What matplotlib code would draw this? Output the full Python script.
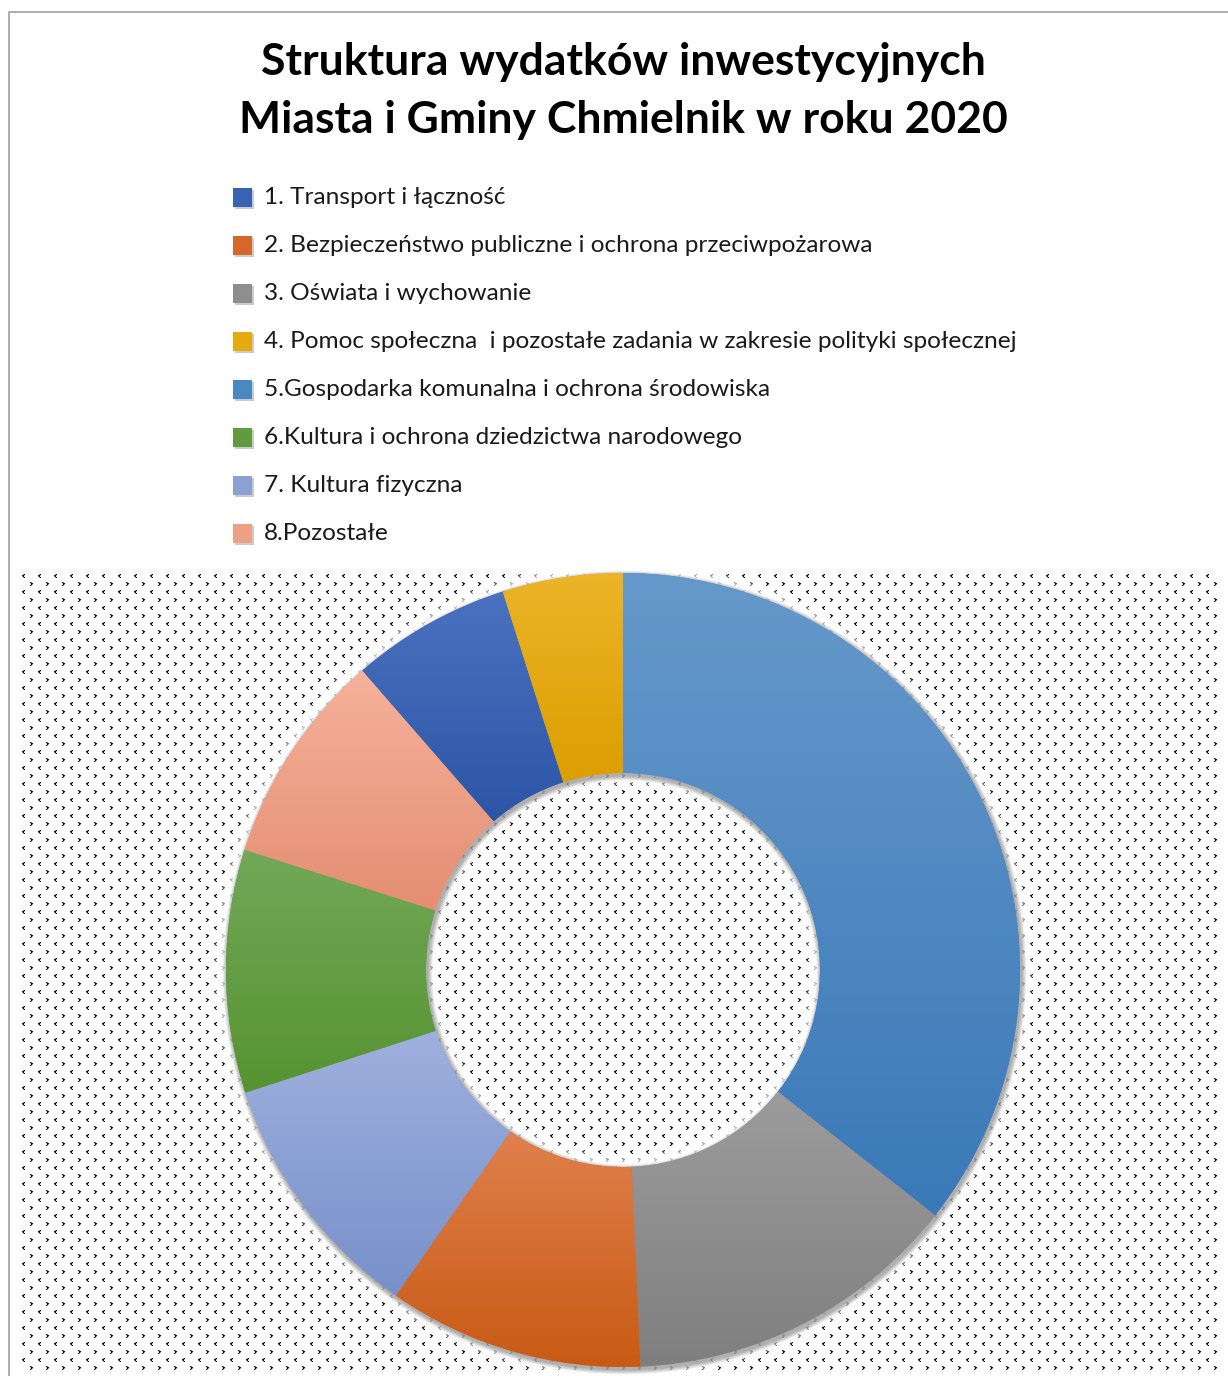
#!/usr/bin/env python3
"""Donut chart: struktura wydatkow inwestycyjnych, Chmielnik 2020."""

import matplotlib
matplotlib.use("Agg")
import matplotlib.pyplot as plt
import matplotlib.colors as mcolors
from matplotlib.patches import Rectangle, Wedge
import numpy as np

plt.rcParams["font.family"] = ["Lato", "DejaVu Sans"]

TITLE_LINES = ["Struktura wydatków inwestycyjnych",
               "Miasta i Gminy Chmielnik w roku 2020"]

# legend order (categories 1..8)
CATEGORIES = [
    "1. Transport i łączność",
    "2. Bezpieczeństwo publiczne i ochrona przeciwpożarowa",
    "3. Oświata i wychowanie",
    "4. Pomoc społeczna  i pozostałe zadania w zakresie polityki społecznej",
    "5.Gospodarka komunalna i ochrona środowiska",
    "6.Kultura i ochrona dziedzictwa narodowego",
    "7. Kultura fizyczna",
    "8.Pozostałe",
]
# share of spending in %
SHARES = [6.5, 10.4, 13.7, 4.9, 35.6, 9.9, 10.3, 8.7]
# gradient colours (top, bottom) per category
COLORS_TOP = ["#4a72c0", "#e0804c", "#9c9c9c", "#ecb428", "#6699cb", "#72a858", "#9eb0de", "#f5b29b"]
COLORS_BOTTOM = ["#2d55a6", "#c85a14", "#7f7f7f", "#dc9e00", "#3a79b8", "#579331", "#7890c9", "#e48e72"]
LEGEND_COLORS = ["#3a62b3", "#d4682a", "#8e8e8e", "#e5aa10", "#4a88c4", "#609c3e", "#8ca0d4", "#eea084"]

W, H = 1228, 1376
CX, CY = 623, H - 970
R_OUT, R_IN = 397, 197


def make_pattern(w, h):
    """Excel-like dotted '<' '>' pattern, 16 px tile."""
    tile = np.zeros((16, 16))
    lt = np.array([[0.0, 0.5, 1.0],
                   [1.0, 1.0, 0.3],
                   [0.4, 1.0, 0.1],
                   [0.0, 0.4, 1.0]])
    gt = lt[:, ::-1]
    tile[1:5, 0:3] = lt
    tile[9:13, 8:11] = gt
    reps = (h // 16 + 2, w // 16 + 2)
    big = np.tile(tile, reps)[:h, :w]
    rgb = np.ones((h, w, 3)) - big[..., None] * 0.97
    return rgb


fig = plt.figure(figsize=(W / 100, H / 100), dpi=100)
ax = fig.add_axes([0, 0, 1, 1])

# plot area pattern
px0, px1, py0, py1 = 22, 1222, H - 1370, H - 573
pat = make_pattern(px1 - px0, py1 - py0)
ax.imshow(pat, extent=(px0, px1, py0, py1), origin="upper",
          interpolation="nearest", zorder=0)

# donut, largest slice first, clockwise from 12 o'clock
order = np.argsort(SHARES)[::-1]
vals = [SHARES[i] for i in order]
wedges, _ = ax.pie(vals, startangle=90, counterclock=False, radius=R_OUT,
                   center=(CX, CY), wedgeprops=dict(width=R_OUT - R_IN, linewidth=0),
                   colors=[LEGEND_COLORS[i] for i in order])

# soft white glow around the ring
for k in range(1, 14):
    ax.add_patch(Wedge((CX, CY), R_OUT + k, 0, 360, width=R_OUT - R_IN + 2 * k,
                       facecolor="white", edgecolor="none", alpha=0.13, zorder=1))
# soft drop shadow
for k in range(1, 7):
    ax.add_patch(Wedge((CX + 1.5, CY - 2.5), R_OUT + k * 0.8, 0, 360,
                       width=R_OUT - R_IN + k * 1.6,
                       facecolor="black", edgecolor="none", alpha=0.06, zorder=2))

for w, i in zip(wedges, order):
    w.set_zorder(3)
    ext = w.get_path().get_extents()
    grad = np.linspace(0, 1, 256)[:, None]
    c0 = np.array(mcolors.to_rgb(COLORS_BOTTOM[i]))
    c1 = np.array(mcolors.to_rgb(COLORS_TOP[i]))
    img = c0[None, None, :] * (1 - grad[..., None]) + c1[None, None, :] * grad[..., None]
    img = np.repeat(img, 2, axis=1)
    im = ax.imshow(img, extent=(ext.x0, ext.x1, ext.y0, ext.y1), origin="lower",
                   interpolation="bilinear", zorder=4, aspect="auto")
    im.set_clip_path(w)

# title
for k, line in enumerate(TITLE_LINES):
    ax.text(623, H - (62 + 58 * k), line, ha="center", va="center", fontsize=32,
            fontweight="bold", color="black", zorder=6)

# legend
for k, (label, col) in enumerate(zip(CATEGORIES, LEGEND_COLORS)):
    yc = H - (197 + 48 * k)
    ax.add_patch(Rectangle((235, yc - 11.5), 19, 19, facecolor="#999999",
                           edgecolor="none", alpha=0.5, zorder=5))
    ax.add_patch(Rectangle((233, yc - 9.5), 19, 19, facecolor=col,
                           edgecolor="none", zorder=6))
    ax.text(264, yc, label, ha="left", va="center", fontsize=17.6,
            color="#1a1a1a", zorder=6)

# outer frame (left and top edges only visible)
ax.plot([8.5, 8.5, W], [0, H - 11.5, H - 11.5], color="#a0a0a0", lw=1.2, zorder=7)

ax.set_xlim(0, W)
ax.set_ylim(0, H)
ax.set_aspect("auto")
ax.axis("off")

fig.savefig("out.png", dpi=100)
